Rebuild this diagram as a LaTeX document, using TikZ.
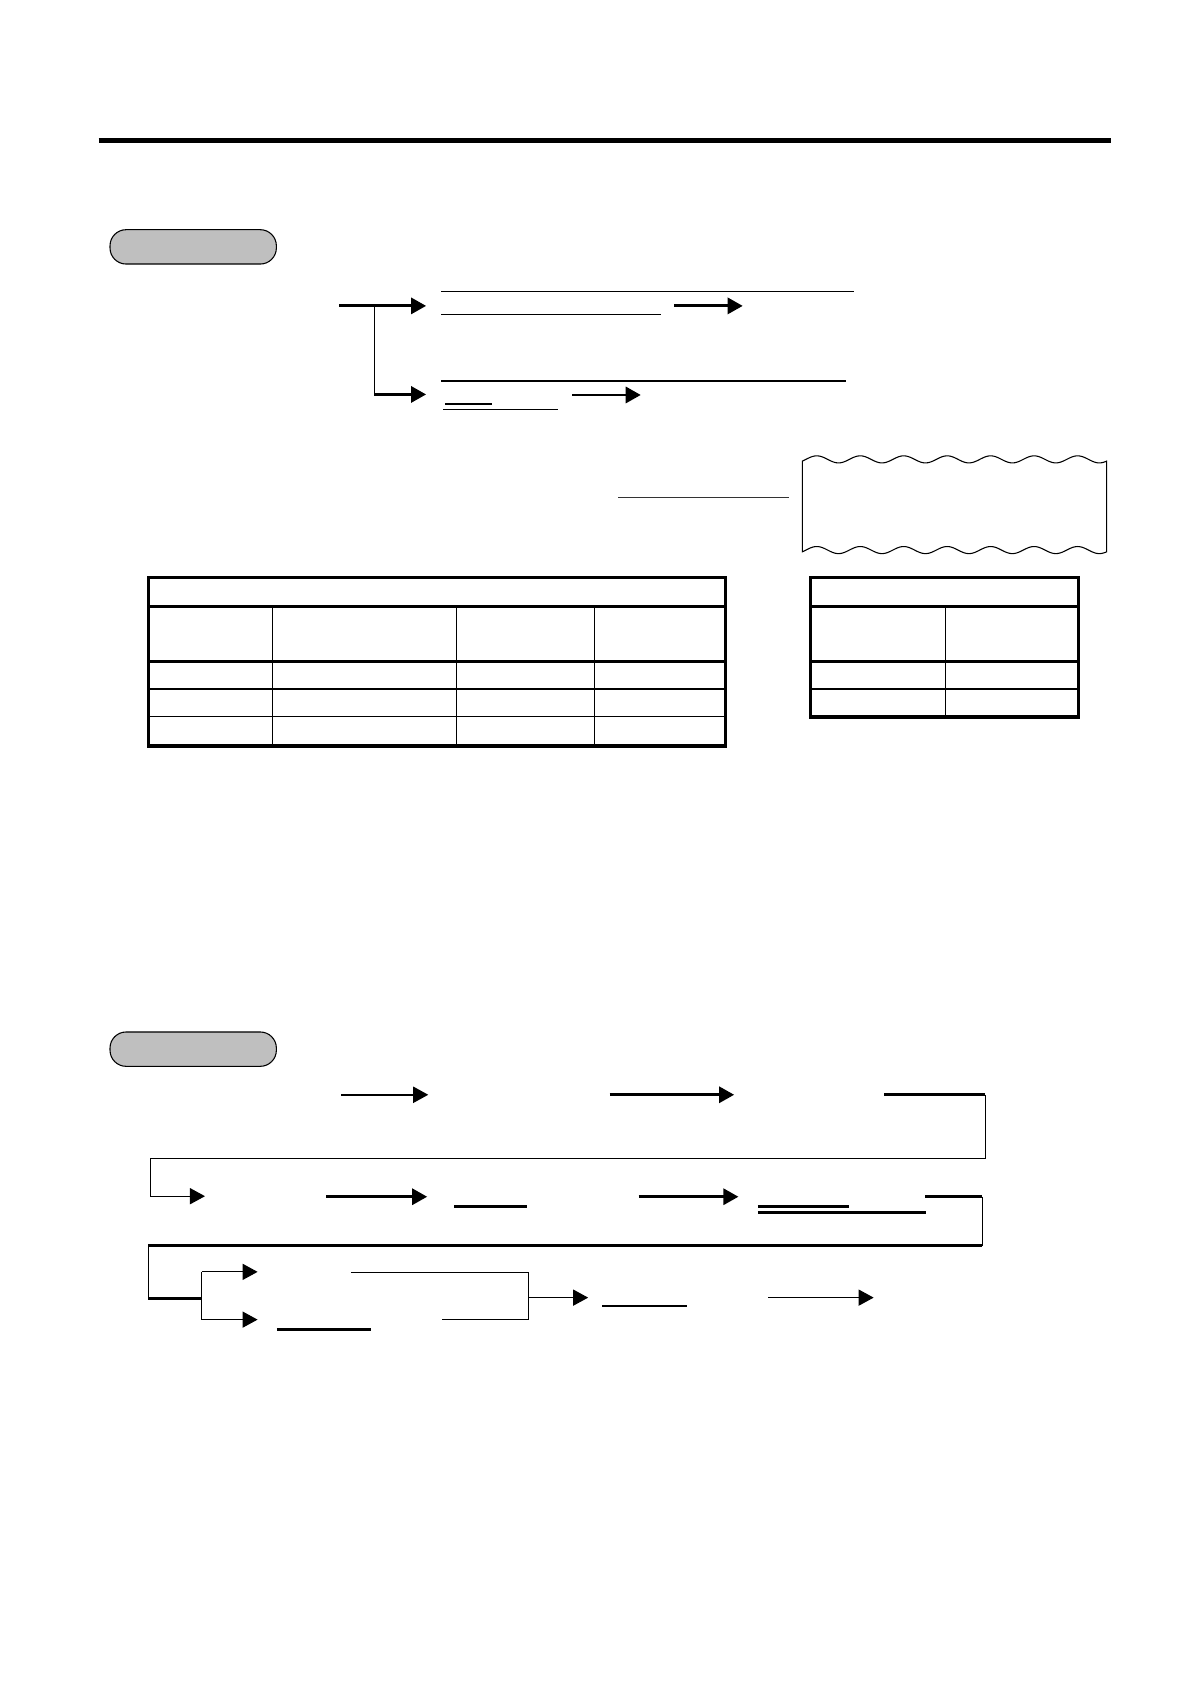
\documentclass[tikz,border=0pt]{standalone}
\usetikzlibrary{arrows.meta,positioning}

\tikzset{
  tip/.style={-{Triangle[length=14pt,width=15pt]}},
  thinln/.style={line width=1pt},
  midln/.style={line width=1.6pt},
  boldln/.style={line width=2.6pt},
  frameln/.style={line width=3pt},
  pill/.style={draw, line width=1pt, fill=gray!50, rounded corners=15pt,
    minimum width=155pt, minimum height=32pt, inner sep=0pt},
}

\begin{document}
\begin{tikzpicture}[x=1pt,y=-1pt]
	\useasboundingbox (0,0) rectangle (1109,1569);

	% heading rule
	\draw[line width=4pt] (92,131) -- (1035,131);

	% ---- first part ----
	\node[pill] (keyA) at (180,230) {};

	\coordinate (inA) at (316,285);
	\coordinate (fork) at (348.5,285);
	\coordinate (outA) at (397,285);
	\coordinate (outB) at (397,367.5);
	\draw[boldln,tip] (inA) -- (outA);
	\draw[thinln] (fork) -- (fork |- outB);
	\draw[boldln,tip] (fork |- outB) -- (outB);

	\draw[midln] (411,271.5) -- (796,271.5);
	\draw[midln] (411,293) -- (616,293);
	\coordinate (goA) at (628,285);
	\coordinate (toA) at (692,285);
	\draw[boldln,tip] (goA) -- (toA);

	\draw[boldln] (411,355) -- (788,355);
	\draw[boldln] (415,376.5) -- (458,376.5);
	\draw[thinln] (413,381.5) -- (520,381.5);
	\coordinate (goB) at (533,368);
	\coordinate (toB) at (597,368);
	\draw[boldln,tip] (goB) -- (toB);

	% slip
	\draw[line width=1.8pt, black!80] (576,463.5) -- (735,463.5);
	\draw[line width=1pt]
		plot[domain=0:283.5, samples=200, variable=\t]
			({747.5+\t}, {428-3.3*sin(\t/283.5*7*360-30)})
		-- plot[domain=283.5:0, samples=200, variable=\t]
			({747.5+\t}, {512.5-3.3*sin(\t/283.5*7*360-30)})
		-- cycle;

	% table left
	\draw[thinln] (253.5,565) -- (253.5,695) (425,565) -- (425,695) (554,565) -- (554,695);
	\draw[line width=1.4pt] (138,642) -- (676,642) (138,667.5) -- (676,667.5);
	\draw[frameln] (138,565) -- (676,565) (138,616) -- (676,616);
	\draw[frameln] (138,538) rectangle (676,695);

	% table right
	\draw[thinln] (880.5,565) -- (880.5,668);
	\draw[line width=1.4pt] (755,642) -- (1005,642);
	\draw[frameln] (755,565) -- (1005,565) (755,616) -- (1005,616);
	\draw[frameln] (755,538) rectangle (1005,668);

	% ---- second part ----
	\node[pill] (keyB) at (180,977.5) {};

	% row 1
	\coordinate (a1) at (318,1020);
	\coordinate (b1) at (399,1020);
	\coordinate (a2) at (568,1020);
	\coordinate (b2) at (684,1020);
	\coordinate (a3) at (824,1020);
	\coordinate (turnA) at (918,1020);
	\coordinate (backA) at (140,1079);
	\coordinate (b3) at (191,1114.5);
	\draw[midln,tip] (a1) -- (b1);
	\draw[boldln,tip] (a2) -- (b2);
	\draw[boldln] (a3) -- (turnA);
	\draw[thinln,tip] (turnA) |- (backA) |- (b3);

	% row 2
	\coordinate (c1) at (304,1115);
	\coordinate (d1) at (398,1115);
	\coordinate (c2) at (595,1115);
	\coordinate (d2) at (688,1115);
	\coordinate (c3) at (862,1115);
	\coordinate (turnB) at (915,1115);
	\coordinate (turnC) at (915,1160.5);
	\coordinate (backB) at (138,1160.5);
	\coordinate (split) at (188,1209.5);
	\draw[boldln,tip] (c1) -- (d1);
	\draw[boldln,tip] (c2) -- (d2);
	\draw[boldln] (423,1124) -- (491,1124);
	\draw[boldln] (706,1124) -- (791,1124);
	\draw[boldln] (706,1129.5) -- (863,1129.5);
	\draw[boldln] (c3) -- (turnB);
	\draw[thinln] (turnB) -- (turnC);
	\draw[boldln] (turnC) -- (backB);
	\draw[thinln] (backB) -- (backB |- split);
	\draw[boldln] (backB |- split) -- (split);

	% row 3
	\coordinate (upE) at (240,1185);
	\coordinate (dnE) at (240,1229.5);
	\draw[thinln] (split |- upE) -- (split |- dnE);
	\draw[thinln,tip] (split |- upE) -- (upE);
	\draw[thinln,tip] (split |- dnE) -- (dnE);
	\draw[midln] (327,1185.5) -- (492.5,1185.5) -- (492.5,1229.5) -- (412,1229.5);
	\draw[boldln] (258,1238.5) -- (346,1238.5);
	\coordinate (joinC) at (492.5,1209);
	\coordinate (e1) at (548,1209);
	\draw[thinln,tip] (joinC) -- (e1);
	\draw[midln] (561,1216.5) -- (640.5,1216.5);
	\coordinate (f1) at (716,1209);
	\coordinate (g1) at (814,1209);
	\draw[thinln,tip] (f1) -- (g1);
\end{tikzpicture}
\end{document}
